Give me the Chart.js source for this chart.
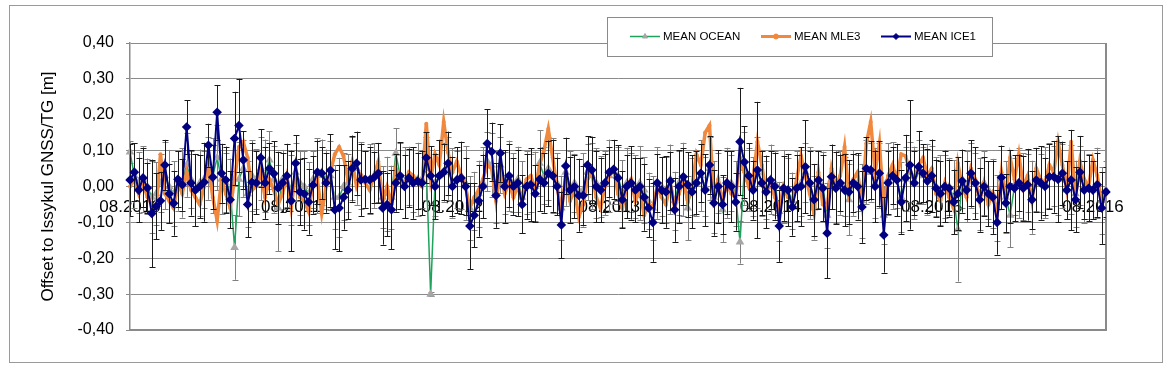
<!DOCTYPE html>
<html>
<head>
<meta charset="utf-8">
<script src="https://cdn.jsdelivr.net/npm/chart.js@4.4.1/dist/chart.umd.min.js"></script>
<style>
html,body{margin:0;padding:0;background:#fff;}
#wrap{width:1170px;height:375px;position:relative;}
</style>
</head>
<body>
<div id="wrap"><canvas id="c" width="1170" height="375"></canvas></div>
<script>
// Categories: Jason-2 repeat cycles (one point per cycle)
const cycles = [
 77,78,79,80,81,82,83,84,85,86,87,88,89,90,91,92,93,94,95,96,97,98,99,100,101,102,103,104,105,106,
 107,108,109,110,111,112,113,114,115,116,117,118,119,120,121,122,123,124,125,126,127,128,129,130,131,132,133,134,135,136,
 137,138,139,140,141,142,143,144,145,146,147,148,149,150,151,152,153,154,155,156,157,158,159,160,161,162,163,164,165,166,
 167,168,169,170,171,172,173,174,175,176,177,178,179,180,181,182,183,184,185,186,187,188,189,190,191,192,193,194,195,196,
 197,198,199,200,201,202,203,204,205,206,207,208,209,210,211,212,213,214,215,216,217,218,219,220,221,222,223,224,225,226,
 227,228,229,230,231,232,233,234,235,236,237,238,239,240,241,242,243,244,245,246,247,248,249,250,251,252,253,254,255,256,
 257,258,259,260,261,262,263,264,265,266,267,268,269,270,271,272,273,274,275,276,277,278,279,280,281,282,283,284,285,286,
 287,288,289,290,291,292,293,294,295,296,297,298,299,300,301
];

// X tick labels and the category index they sit on
const tickLabels = ['08.2010','08.2011','08.2012','08.2013','08.2014','08.2015','08.2016'];
const tickIndex  = [0, 37, 74, 110, 147, 184, 221];

const seriesNames = ['MEAN OCEAN', 'MEAN MLE3', 'MEAN ICE1'];

const meanOcean = [
 0.096,0.030,0.010,0.020,0.000,-0.030,-0.020,0.010,0.030,0.000,
 -0.020,0.015,0.010,0.060,0.020,-0.010,0.010,0.020,0.050,0.030,
 0.080,0.020,0.010,-0.010,-0.170,0.020,0.050,-0.020,0.030,0.020,
 0.050,0.030,0.074,0.020,-0.060,0.020,0.030,-0.010,0.040,0.010,
 0.000,-0.020,0.020,0.030,0.040,0.020,0.030,-0.030,-0.030,0.000,
 0.010,0.050,0.050,0.030,0.020,0.020,0.030,0.040,-0.030,-0.020,
 -0.030,0.093,0.030,0.010,0.030,0.020,0.020,0.020,0.050,-0.300,
 0.010,0.030,0.040,0.050,0.010,0.020,0.030,0.010,-0.060,-0.040,
 -0.020,0.010,0.070,0.060,0.000,0.060,0.010,0.030,0.010,0.020,
 -0.030,0.010,0.010,0.000,0.065,0.030,0.050,0.030,0.010,-0.060,
 0.040,0.000,0.010,-0.010,-0.010,0.040,0.030,0.010,0.000,0.010,
 0.030,0.040,0.030,-0.020,0.010,0.010,0.000,0.010,-0.010,-0.040,
 -0.060,0.010,0.000,-0.010,0.020,-0.040,0.010,0.020,-0.060,0.000,
 0.010,0.030,0.000,0.050,-0.030,0.010,-0.065,0.010,0.010,-0.020,
 -0.155,0.050,0.020,0.000,0.040,0.010,-0.010,0.020,0.010,-0.070,
 0.000,-0.010,-0.040,0.000,0.010,0.040,0.010,-0.060,0.020,0.000,
 -0.080,0.020,0.000,0.010,0.000,-0.037,0.010,0.010,-0.040,0.040,
 0.040,0.010,0.030,-0.080,0.020,0.030,0.020,-0.030,0.020,0.040,
 0.010,0.040,0.030,0.020,0.020,0.000,-0.010,0.000,0.000,-0.030,
 -0.120,0.020,0.000,0.030,0.010,-0.020,0.010,-0.010,-0.020,-0.060,
 0.020,-0.030,-0.080,0.000,0.010,0.000,0.010,-0.030,0.020,0.010,
 0.010,0.030,0.030,0.020,0.030,-0.010,0.020,-0.020,0.030,0.000,
 0.000,-0.010,0.010,-0.040,-0.010
];

const meanMle3 = [
 0.000,0.020,-0.020,0.010,-0.030,-0.050,-0.060,0.090,-0.020,-0.040,
 -0.060,0.010,-0.020,0.040,-0.010,-0.030,-0.050,0.000,0.060,-0.030,
 -0.095,0.020,-0.020,-0.060,0.020,0.110,0.125,0.080,-0.010,0.000,
 0.040,-0.030,0.020,-0.010,-0.050,-0.020,0.030,-0.060,0.040,-0.030,
 -0.040,-0.070,0.010,0.020,-0.075,0.000,0.040,0.090,0.110,0.085,
 0.020,0.070,0.000,0.030,0.010,-0.010,0.030,0.070,-0.040,0.000,
 -0.050,0.050,0.020,0.000,0.040,0.030,0.010,0.000,0.175,0.020,
 0.090,0.060,0.180,0.095,0.040,0.070,0.030,0.000,-0.060,-0.030,
 -0.010,0.020,0.060,0.050,-0.040,0.040,-0.020,0.010,-0.030,0.000,
 -0.040,0.020,0.030,-0.010,0.060,0.100,0.160,0.080,0.000,-0.070,
 0.030,-0.040,-0.010,-0.085,-0.050,0.020,0.040,-0.030,-0.060,0.000,
 0.030,0.050,-0.020,-0.060,0.000,0.020,-0.040,-0.010,-0.080,-0.050,
 -0.060,0.000,-0.030,-0.050,0.010,-0.060,-0.020,0.020,-0.040,0.000,
 0.090,0.060,0.150,0.170,-0.030,0.020,-0.040,0.010,-0.020,-0.030,
 0.080,0.040,0.000,0.020,0.125,0.060,-0.020,0.010,-0.030,-0.060,
 0.000,-0.030,-0.040,0.020,0.085,0.030,-0.020,-0.075,0.040,-0.050,
 -0.060,0.050,0.000,0.030,0.110,-0.020,0.020,0.040,-0.050,0.120,
 0.180,0.040,0.120,-0.060,0.030,0.060,0.020,0.090,0.085,0.040,
 0.020,0.060,0.080,0.030,0.050,-0.020,-0.040,0.010,-0.030,-0.060,
 0.065,0.000,-0.030,0.050,0.020,-0.040,0.010,-0.050,-0.020,-0.080,
 0.040,-0.030,0.080,0.020,0.090,0.000,0.030,-0.040,0.050,0.020,
 0.010,0.060,0.040,0.125,0.060,-0.010,0.125,-0.030,0.070,0.020,
 0.000,0.074,0.030,-0.045,-0.020
];

const meanIce1 = [
 0.018,0.040,-0.010,0.024,-0.004,-0.075,-0.055,-0.040,0.060,-0.020,
 -0.047,0.020,0.005,0.166,0.010,-0.010,0.000,0.012,0.115,0.026,
 0.207,0.037,0.018,-0.037,0.134,0.170,0.074,-0.050,0.012,0.010,
 0.080,0.010,0.050,0.036,-0.004,0.010,0.030,-0.040,0.065,-0.015,
 -0.020,-0.043,0.004,0.040,0.037,0.010,0.045,-0.065,-0.060,-0.030,
 -0.010,0.050,0.065,0.018,0.020,0.018,0.025,0.037,-0.060,-0.050,
 -0.065,0.010,0.030,0.000,0.024,0.010,0.015,0.010,0.080,0.030,
 0.000,0.030,0.040,0.065,0.000,0.018,0.024,0.000,-0.110,-0.080,
 -0.040,0.000,0.120,0.097,-0.025,0.093,0.000,0.030,0.000,0.010,
 -0.050,0.000,0.005,-0.020,0.020,0.010,0.037,0.030,0.000,-0.107,
 0.057,-0.010,0.000,-0.025,-0.025,0.060,0.046,0.000,-0.010,0.010,
 0.040,0.048,0.024,-0.037,0.000,0.010,-0.010,0.000,-0.030,-0.060,
 -0.100,0.010,-0.010,-0.015,0.015,-0.065,0.000,0.027,0.005,-0.015,
 0.010,0.037,-0.010,0.060,-0.046,0.000,-0.050,0.010,0.000,-0.043,
 0.125,0.068,0.030,-0.010,0.046,0.010,-0.015,0.018,0.000,-0.110,
 -0.005,-0.010,-0.057,-0.005,0.000,0.055,0.010,-0.037,0.018,-0.005,
 -0.130,0.027,-0.005,0.010,-0.010,-0.015,0.010,0.000,-0.057,0.050,
 0.046,0.000,0.037,-0.135,0.010,0.030,0.018,-0.043,0.024,0.060,
 0.010,0.055,0.037,0.015,0.030,-0.005,-0.020,0.000,-0.005,-0.043,
 -0.020,0.015,-0.010,0.037,0.010,-0.037,0.000,-0.020,-0.030,-0.100,
 0.025,-0.046,0.000,-0.005,0.010,-0.005,0.005,-0.037,0.018,0.010,
 0.000,0.027,0.027,0.020,0.037,-0.010,0.018,-0.037,0.040,-0.010,
 -0.005,-0.010,0.005,-0.060,-0.015
];

// Error bar half-widths (m)
const errOcean = [
 0.030,0.090,0.085,0.092,0.078,0.100,0.088,0.081,0.094,0.102,
 0.090,0.083,0.097,0.089,0.080,0.101,0.093,0.079,0.087,0.104,
 0.091,0.098,0.082,0.088,0.090,0.103,0.079,0.092,0.099,0.084,
 0.089,0.101,0.080,0.093,0.120,0.082,0.088,0.097,0.081,0.090,
 0.098,0.087,0.080,0.104,0.091,0.083,0.096,0.089,0.110,0.092,
 0.080,0.088,0.101,0.093,0.079,0.098,0.090,0.082,0.086,0.103,
 0.088,0.070,0.092,0.099,0.081,0.090,0.102,0.079,0.087,0.005,
 0.091,0.100,0.082,0.089,0.097,0.080,0.093,0.103,0.088,0.081,
 0.092,0.099,0.083,0.090,0.101,0.079,0.087,0.098,0.082,0.091,
 0.100,0.088,0.081,0.097,0.092,0.080,0.089,0.104,0.083,0.090,
 0.094,0.099,0.081,0.088,0.102,0.079,0.092,0.097,0.084,0.089,
 0.101,0.090,0.080,0.093,0.098,0.082,0.087,0.103,0.091,0.079,
 0.088,0.100,0.083,0.092,0.097,0.081,0.089,0.102,0.090,0.080,
 0.093,0.099,0.082,0.087,0.101,0.084,0.091,0.098,0.079,0.090,
 0.060,0.101,0.088,0.081,0.099,0.092,0.080,0.097,0.089,0.083,
 0.102,0.090,0.079,0.098,0.093,0.082,0.100,0.088,0.080,0.097,
 0.091,0.083,0.101,0.089,0.081,0.099,0.092,0.079,0.103,0.090,
 0.082,0.098,0.091,0.080,0.100,0.093,0.081,0.097,0.089,0.083,
 0.101,0.090,0.079,0.099,0.092,0.082,0.098,0.088,0.080,0.103,
 0.145,0.081,0.099,0.091,0.083,0.100,0.089,0.080,0.097,0.092,
 0.082,0.101,0.090,0.079,0.098,0.093,0.081,0.102,0.088,0.080,
 0.099,0.091,0.083,0.100,0.089,0.080,0.097,0.092,0.082,0.101,
 0.090,0.081,0.098,0.093,0.080
];

const errIce1 = [
 0.100,0.080,0.090,0.082,0.070,0.150,0.092,0.081,0.070,0.083,
 0.090,0.078,0.072,0.075,0.091,0.100,0.088,0.110,0.060,0.090,
 0.076,0.082,0.093,0.079,0.130,0.130,0.080,0.092,0.110,0.088,
 0.080,0.100,0.071,0.090,0.101,0.082,0.089,0.140,0.078,0.093,
 0.100,0.091,0.080,0.088,0.072,0.083,0.101,0.110,0.120,0.090,
 0.081,0.092,0.088,0.100,0.079,0.091,0.070,0.083,0.102,0.089,
 0.110,0.080,0.093,0.088,0.081,0.100,0.079,0.090,0.071,0.082,
 0.091,0.100,0.079,0.088,0.083,0.092,0.101,0.080,0.120,0.090,
 0.100,0.089,0.095,0.081,0.090,0.080,0.101,0.088,0.079,0.092,
 0.081,0.090,0.102,0.079,0.088,0.083,0.091,0.100,0.080,0.093,
 0.079,0.091,0.088,0.101,0.082,0.080,0.093,0.100,0.089,0.081,
 0.070,0.082,0.091,0.079,0.088,0.102,0.090,0.080,0.093,0.081,
 0.110,0.080,0.092,0.100,0.081,0.089,0.101,0.079,0.090,0.102,
 0.088,0.081,0.100,0.080,0.091,0.101,0.082,0.088,0.099,0.080,
 0.150,0.100,0.090,0.082,0.190,0.089,0.101,0.080,0.092,0.100,
 0.090,0.101,0.080,0.092,0.110,0.130,0.089,0.100,0.081,0.092,
 0.125,0.090,0.100,0.079,0.101,0.089,0.080,0.092,0.100,0.088,
 0.081,0.100,0.090,0.105,0.088,0.080,0.101,0.089,0.120,0.180,
 0.090,0.100,0.081,0.089,0.101,0.080,0.091,0.100,0.079,0.090,
 0.101,0.088,0.080,0.092,0.100,0.089,0.081,0.091,0.102,0.090,
 0.089,0.080,0.101,0.092,0.079,0.090,0.100,0.081,0.088,0.102,
 0.080,0.091,0.100,0.120,0.088,0.081,0.140,0.090,0.101,0.080,
 0.092,0.080,0.089,0.100,0.070
];

const FONT = '"Liberation Sans", Arial, sans-serif';
Chart.defaults.font.family = FONT;
Chart.defaults.color = '#000';

// error bars drawn just before each dataset
const errorBarPlugin = {
  id: 'errorBars',
  beforeDatasetDraw(chart, args) {
    const ds = chart.data.datasets[args.index];
    if (!ds.errors) return;
    const ctx = chart.ctx, ys = chart.scales.y, area = chart.chartArea;
    ctx.save();
    ctx.beginPath();
    ctx.rect(area.left, area.top, area.right - area.left, area.bottom - area.top);
    ctx.clip();
    ctx.strokeStyle = ds.errorColor;
    ctx.lineWidth = 1;
    ctx.beginPath();
    args.meta.data.forEach((pt, i) => {
      const v = ds.data[i], e = ds.errors[i];
      if (v == null || e == null) return;
      const x = Math.round(pt.x) + 0.5;
      const t = ys.getPixelForValue(v + e), b = ys.getPixelForValue(v - e);
      ctx.moveTo(x, t); ctx.lineTo(x, b);
      ctx.moveTo(x - 3, Math.round(t) + 0.5); ctx.lineTo(x + 3, Math.round(t) + 0.5);
      ctx.moveTo(x - 3, Math.round(b) + 0.5); ctx.lineTo(x + 3, Math.round(b) + 0.5);
    });
    ctx.stroke();
    ctx.restore();
  }
};

// outer frame, plot-area right/bottom border, legend box
const framePlugin = {
  id: 'frame',
  beforeDraw(chart) {
    const ctx = chart.ctx;
    ctx.save();
    ctx.fillStyle = '#fff';
    ctx.fillRect(0, 0, chart.width, chart.height);
    ctx.strokeStyle = '#9a9a9a';
    ctx.lineWidth = 1;
    ctx.strokeRect(9.5, 5.5, 1153, 357);
    ctx.restore();
  },
  beforeDatasetsDraw(chart) {
    const ctx = chart.ctx, a = chart.chartArea;
    ctx.save();
    ctx.strokeStyle = '#8a8a8a';
    ctx.lineWidth = 2;
    ctx.beginPath();
    ctx.moveTo(a.left, a.bottom); ctx.lineTo(a.right, a.bottom); ctx.lineTo(a.right, a.top);
    ctx.stroke();
    ctx.restore();
  },
  afterDraw(chart) {
    const ctx = chart.ctx;
    const box = {x: 607.5, y: 17.5, w: 385, h: 39};
    ctx.save();
    ctx.fillStyle = '#fff';
    ctx.fillRect(box.x, box.y, box.w, box.h);
    ctx.strokeStyle = '#8a8a8a';
    ctx.lineWidth = 1;
    ctx.strokeRect(box.x, box.y, box.w, box.h);
    const cy = 36.5;
    const starts = [630, 761, 881];
    ctx.font = '11.5px ' + FONT;
    ctx.textBaseline = 'middle';
    ctx.textAlign = 'left';
    seriesNames.forEach((name, k) => {
      const ds = chart.data.datasets.find(d => d.label === name);
      const x0 = starts[k];
      ctx.strokeStyle = ds.borderColor;
      ctx.lineWidth = Math.min(ds.borderWidth, 3);
      ctx.beginPath(); ctx.moveTo(x0, cy); ctx.lineTo(x0 + 30, cy); ctx.stroke();
      ctx.fillStyle = ds.pointBackgroundColor;
      ctx.strokeStyle = ds.pointBorderColor;
      ctx.lineWidth = 1;
      Chart.helpers.drawPoint(ctx, {pointStyle: ds.pointStyle, radius: ds.legendRadius, rotation: 0, borderWidth: 1}, x0 + 15, cy);
      ctx.fillStyle = '#000';
      ctx.fillText(name, x0 + 33, cy + 0.5);
    });
    ctx.restore();
  }
};

const data = {
  labels: cycles,
  datasets: [
    {
      label: seriesNames[2], data: meanIce1, errors: errIce1, errorColor: '#1a1a1a',
      borderColor: '#000080', backgroundColor: '#000080', borderWidth: 2,
      pointStyle: 'rectRot', pointRadius: 4.8, pointBackgroundColor: '#000080', pointBorderColor: '#000080',
      pointBorderWidth: 0, legendRadius: 3, order: 0
    },
    {
      label: seriesNames[1], data: meanMle3,
      borderColor: '#F0883E', backgroundColor: '#F0883E', borderWidth: 3.5,
      pointStyle: 'circle', pointRadius: 2, pointBackgroundColor: '#F0883E', pointBorderColor: '#F0883E',
      pointBorderWidth: 0, legendRadius: 2.5, order: 1
    },
    {
      label: seriesNames[0], data: meanOcean, errors: errOcean, errorColor: '#808080',
      borderColor: '#1FA35B', backgroundColor: '#1FA35B', borderWidth: 1.5,
      pointStyle: 'triangle', pointRadius: 5, pointBackgroundColor: '#A6A6A6', pointBorderColor: '#A6A6A6',
      pointBorderWidth: 0, legendRadius: 3, order: 2
    }
  ]
};

new Chart(document.getElementById('c'), {
  type: 'line',
  data: data,
  plugins: [framePlugin, errorBarPlugin],
  options: {
    responsive: false,
    animation: false,
    devicePixelRatio: 1,
    layout: {padding: {left: 30, right: 64, top: 43, bottom: 45}},
    elements: {line: {tension: 0}},
    plugins: {legend: {display: false}, tooltip: {enabled: false}},
    scales: {
      x: {
        type: 'category',
        position: {y: 0},
        offset: false,
        grid: {display: false, drawTicks: false},
        border: {display: false},
        afterBuildTicks: (s) => { s.ticks = tickIndex.map(v => ({value: v})); },
        ticks: {
          autoSkip: false, maxRotation: 0, minRotation: 0, padding: 11,
          color: '#000', font: {size: 17},
          callback: (v) => { const k = tickIndex.indexOf(v); return k >= 0 ? tickLabels[k] : ''; }
        }
      },
      y: {
        min: -0.4, max: 0.4,
        afterFit: (s) => { s.width = 100; },
        grid: {color: '#8a8a8a', lineWidth: 1, drawTicks: true, tickLength: 4, tickColor: '#8a8a8a'},
        border: {color: '#8a8a8a', width: 1.5},
        ticks: {
          stepSize: 0.1, padding: 12, color: '#000', font: {size: 16},
          callback: (v) => (Math.abs(v) < 1e-9 ? 0 : v).toFixed(2).replace('.', ',')
        },
        title: {display: true, text: 'Offset to Issykul GNSS/TG [m]', color: '#000', font: {size: 17}, padding: {top: 8, bottom: 0}}
      }
    }
  }
});
</script>
</body>
</html>
